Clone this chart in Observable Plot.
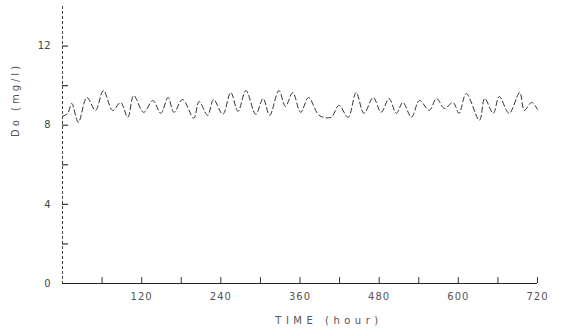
<!DOCTYPE html>
<html>
<head>
<meta charset="utf-8">
<script src="https://cdn.jsdelivr.net/npm/d3@7"></script>
<script src="https://cdn.jsdelivr.net/npm/@observablehq/plot@0.6"></script>
<style>
  html, body { margin: 0; padding: 0; background: #fff; }
  #chart svg { display: block; }
</style>
</head>
<body>
<div id="chart"></div>
<script>
// Time (hours) and dissolved oxygen (mg/l)
const hours = [0, 8, 14, 24, 37, 50, 62, 76, 88, 99, 108, 123, 137, 149, 160, 169, 182, 199, 207, 220, 229, 243, 255, 266, 278, 293, 304, 314, 328, 338, 349, 361, 373, 389, 407, 419, 433, 445, 457, 471, 483, 495, 506, 516, 529, 541, 556, 567, 579, 592, 601, 612, 632, 640, 653, 662, 677, 693, 700, 711, 720];
const doValues = [8.45, 8.6, 9.1, 8.15, 9.4, 8.75, 9.75, 8.75, 9.15, 8.4, 9.5, 8.65, 9.25, 8.6, 9.4, 8.65, 9.3, 8.35, 9.2, 8.5, 9.3, 8.55, 9.65, 8.7, 9.75, 8.55, 9.35, 8.5, 9.75, 8.95, 9.65, 8.65, 9.4, 8.5, 8.4, 9.0, 8.4, 9.65, 8.6, 9.4, 8.65, 9.35, 8.6, 9.15, 8.4, 9.25, 8.75, 9.35, 8.85, 9.15, 8.6, 9.6, 8.25, 9.35, 8.6, 9.45, 8.6, 9.65, 8.75, 9.15, 8.8];

const xTickLabels = [120, 240, 360, 480, 600, 720];
const xTickMarks = [60, 120, 180, 240, 300, 360, 420, 480, 540, 600, 660, 720];
const yTickLabels = [0, 4, 8, 12];
const yTickMarks = [2, 4, 6, 8, 10, 12];

const data = hours.map((h, i) => ({hour: h, value: doValues[i]}));

const font = "'DejaVu Sans', sans-serif";

const chart = Plot.plot({
  width: 563,
  height: 336,
  marginLeft: 62,
  marginRight: 26,
  marginTop: 6,
  marginBottom: 53,
  style: {fontFamily: font, fontSize: "10px", color: "#333", background: "#fff"},
  x: {domain: [0, 720], axis: null},
  y: {domain: [0, 14], axis: null},
  marks: [
    // axes lines
    Plot.ruleY([0], {stroke: "#222", strokeWidth: 1.2}),
    Plot.ruleX([0], {stroke: "#444", strokeWidth: 1, strokeDasharray: "3,2"}),
    // inward tick marks
    Plot.ruleX(xTickMarks, {x: d => d, y1: 0, y2: 0.3, stroke: "#333", strokeWidth: 1}),
    Plot.ruleY(yTickMarks, {y: d => d, x1: 0, x2: 9, stroke: "#333", strokeWidth: 1.2}),
    // tick labels
    Plot.axisX(xTickLabels, {anchor: "bottom", tickSize: 0, tickPadding: 9, fontSize: 10, fill: "#555", label: null, fontFamily: font, className: "xlab"}),
    Plot.axisY(yTickLabels, {anchor: "left", tickSize: 0, tickPadding: 12, fontSize: 10, fill: "#444", label: null, fontFamily: font}),
    // data line
    Plot.line(data, {x: "hour", y: "value", curve: "catmull-rom", stroke: "#333", strokeWidth: 1, strokeDasharray: "5,3"}),
    // axis titles
    Plot.text(["TIME (hour)"], {frameAnchor: "bottom", dx: 29, dy: 40, fontSize: 10, fill: "#555", fontFamily: font, className: "xtitle"}),
    Plot.text(["Do (mg/l)"], {frameAnchor: "left", rotate: -90, dx: -47, dy: -8, fontSize: 10, fill: "#555", fontFamily: font, className: "ytitle"})
  ]
});

d3.select(chart).selectAll(".xtitle text").attr("letter-spacing", "4.5px");
d3.select(chart).selectAll(".ytitle text").attr("letter-spacing", "3px");
d3.select(chart).selectAll(".xlab text").attr("letter-spacing", "1px");

document.getElementById("chart").appendChild(chart);
</script>
</body>
</html>
